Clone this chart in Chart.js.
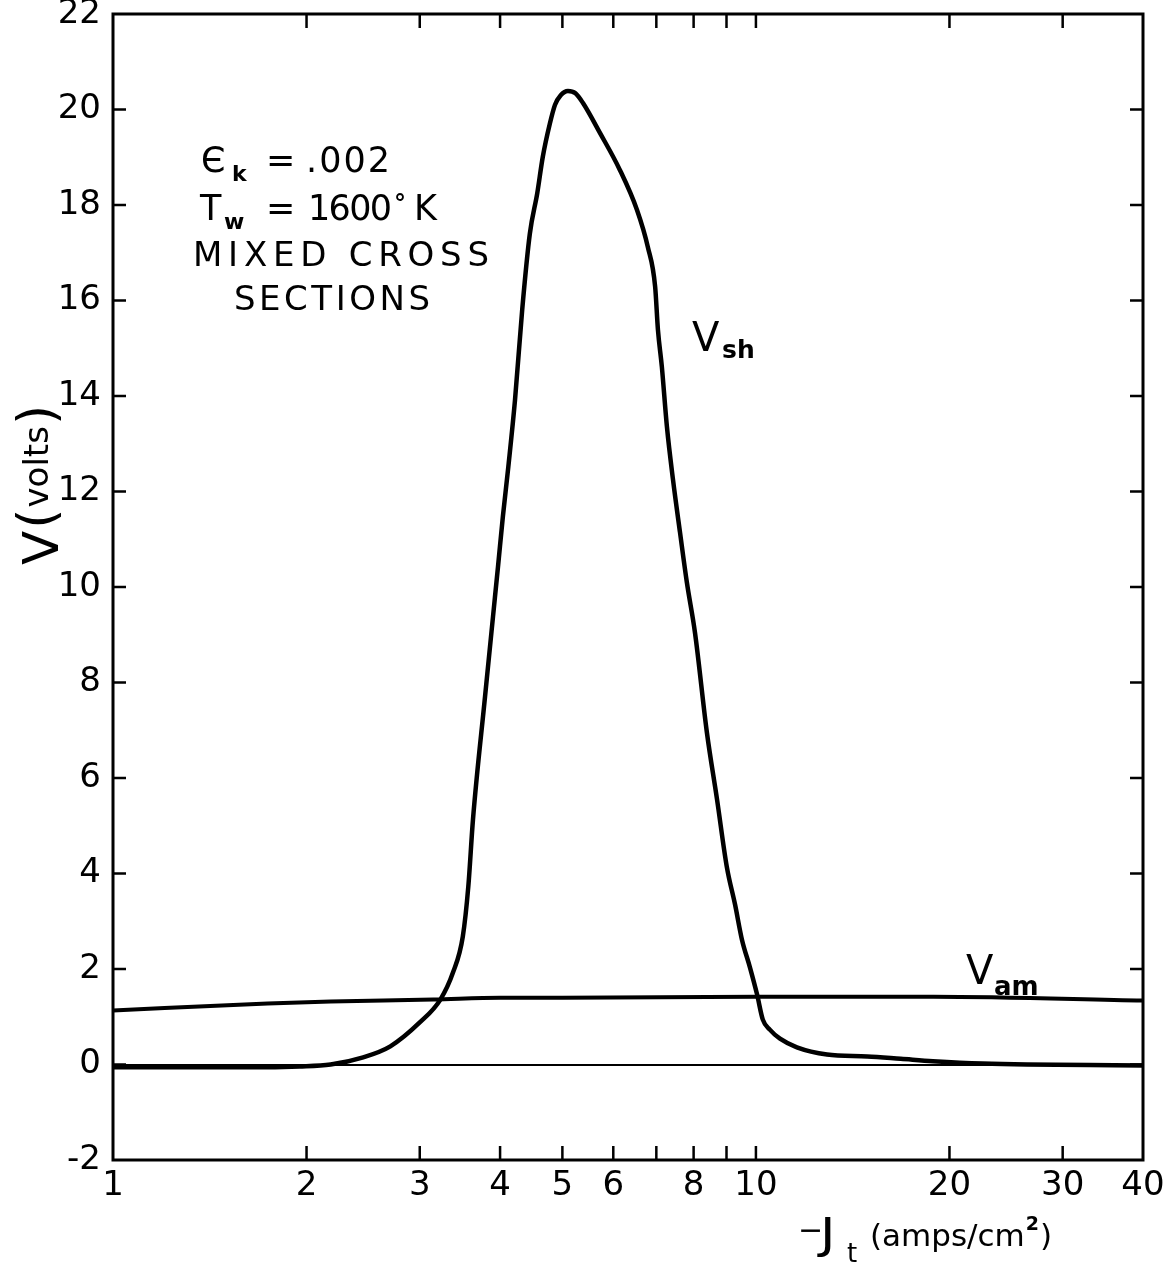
<!DOCTYPE html>
<html>
<head>
<meta charset="utf-8">
<script src="https://cdn.jsdelivr.net/npm/chart.js@4.4.0/dist/chart.umd.min.js"></script>
<style>
  html, body { margin: 0; padding: 0; background: #fff; }
</style>
</head>
<body>
<canvas id="chart" width="1171" height="1268"></canvas>
<script>
// -J_t (amps/cm^2) and sheath voltage V_sh (volts)
const jSh = [1.0, 1.63, 1.95, 2.18, 2.45, 2.7, 3.0, 3.23, 3.38, 3.5, 3.57, 3.63, 3.79, 3.9, 3.97, 4.04, 4.12, 4.22, 4.33, 4.45, 4.57, 4.66, 4.78, 4.87, 4.97, 5.1, 5.24, 5.38, 5.72, 6.14, 6.53, 6.79, 6.97, 7.04, 7.14, 7.27, 7.43, 7.62, 7.81, 8.04, 8.39, 8.7, 9.01, 9.28, 9.51, 9.79, 10.04, 10.25, 10.51, 10.9, 11.58, 12.9, 14.9, 16.8, 18.85, 22.5, 40];
const vSh = [-0.06, -0.06, -0.04, 0.0, 0.15, 0.38, 0.88, 1.36, 1.93, 2.68, 3.73, 5.13, 7.7, 9.38, 10.42, 11.47, 12.52, 13.92, 15.81, 17.4, 18.25, 19.0, 19.7, 20.1, 20.3, 20.39, 20.34, 20.14, 19.51, 18.74, 17.9, 17.12, 16.29, 15.39, 14.61, 13.36, 12.25, 11.14, 10.09, 9.04, 6.95, 5.55, 4.14, 3.35, 2.62, 2.03, 1.47, 0.94, 0.73, 0.54, 0.36, 0.21, 0.17, 0.12, 0.07, 0.02, -0.02];

// arc-mode voltage V_am
const jAm = [1.0, 1.74, 2.18, 3.15, 4.0, 5.0, 10.0, 13.0, 18.9, 40];
const vAm = [1.13, 1.28, 1.32, 1.36, 1.40, 1.40, 1.42, 1.42, 1.42, 1.34];

const xLabels = [1, 2, 3, 4, 5, 6, 8, 10, 20, 30, 40];
const xMarks = [2, 3, 4, 5, 6, 7, 8, 9, 10, 20, 30];
const yTicks = [-2, 0, 2, 4, 6, 8, 10, 12, 14, 16, 18, 20, 22];

const FONT = "'DejaVu Sans', sans-serif";

function spaced(ctx, text, x, y, width) {
  ctx.letterSpacing = '0px';
  const w0 = ctx.measureText(text).width;
  ctx.letterSpacing = ((width - w0) / (text.length - 1)) + 'px';
  ctx.fillText(text, x, y);
  ctx.letterSpacing = '0px';
}

// frame on four sides with inward ticks
const framePlugin = {
  id: 'frame',
  afterDraw(chart) {
    const ctx = chart.ctx, a = chart.chartArea;
    const xs = chart.scales.x, ys = chart.scales.y;
    ctx.save();
    ctx.strokeStyle = '#000';
    ctx.lineWidth = 3;
    ctx.strokeRect(a.left, a.top, a.right - a.left, a.bottom - a.top);
    ctx.lineWidth = 2.5;
    ctx.beginPath();
    xMarks.forEach(v => {
      const px = xs.getPixelForValue(v);
      ctx.moveTo(px, a.bottom); ctx.lineTo(px, a.bottom - 14);
      ctx.moveTo(px, a.top); ctx.lineTo(px, a.top + 14);
    });
    yTicks.slice(1, -1).forEach(v => {
      const py = ys.getPixelForValue(v);
      ctx.moveTo(a.left, py); ctx.lineTo(a.left + 13, py);
      ctx.moveTo(a.right, py); ctx.lineTo(a.right - 13, py);
    });
    ctx.stroke();
    ctx.restore();
  }
};

// annotations and axis titles
const textPlugin = {
  id: 'texts',
  afterDraw(chart) {
    const ctx = chart.ctx;
    ctx.save();
    ctx.fillStyle = '#000';
    ctx.textBaseline = 'alphabetic';
    ctx.textAlign = 'left';

    ctx.font = '35px ' + FONT;
    ctx.fillText('\u0404', 201, 172);
    ctx.fillText('=', 266, 172);
    spaced(ctx, '.002', 306, 172, 84);
    ctx.fillText('T', 200, 220);
    ctx.fillText('=', 266, 220);
    spaced(ctx, '1600', 308, 220, 84);
    ctx.fillText('K', 414, 220);
    ctx.font = 'bold 24px ' + FONT;
    ctx.fillText('\u00b0', 394, 212);
    ctx.font = 'bold 22px ' + FONT;
    ctx.fillText('k', 232, 181);
    ctx.fillText('w', 224, 229);

    ctx.font = '34px ' + FONT;
    spaced(ctx, 'MIXED CROSS', 193, 266, 296);
    spaced(ctx, 'SECTIONS', 234, 310, 196);

    ctx.font = '40px ' + FONT;
    ctx.fillText('V', 692, 351);
    ctx.fillText('V', 966, 984);
    ctx.font = 'bold 25px ' + FONT;
    ctx.fillText('sh', 722, 358);
    ctx.font = 'bold 26px ' + FONT;
    ctx.fillText('am', 994, 995);

    // x title
    ctx.font = '30px ' + FONT;
    ctx.fillText('\u2212', 798, 1240);
    ctx.save();
    ctx.translate(820, 1248);
    ctx.scale(1.25, 1);
    ctx.font = '42px ' + FONT;
    ctx.fillText('J', 0, 0);
    ctx.restore();
    ctx.font = '26px ' + FONT;
    ctx.fillText('t', 847, 1262);
    let x = 870;
    ctx.font = '31px ' + FONT;
    ctx.fillText('(amps/cm', x, 1246);
    x += ctx.measureText('(amps/cm').width + 1;
    ctx.font = 'bold 19px ' + FONT;
    ctx.fillText('2', x, 1230);
    x += ctx.measureText('2').width + 1;
    ctx.font = '31px ' + FONT;
    ctx.fillText(')', x, 1246);

    // y title
    ctx.translate(58, 565);
    ctx.rotate(-Math.PI / 2);
    ctx.font = '50px ' + FONT;
    ctx.fillText('V', 0, 0);
    let t = ctx.measureText('V').width + 2;
    ctx.font = '52px ' + FONT;
    ctx.fillText('(', t, -4);
    t += ctx.measureText('(').width + 1;
    ctx.font = '34px ' + FONT;
    ctx.fillText('volts', t, -10);
    t += ctx.measureText('volts').width + 1;
    ctx.font = '52px ' + FONT;
    ctx.fillText(')', t, -4);
    ctx.restore();
  }
};

new Chart(document.getElementById('chart'), {
  type: 'line',
  data: {
    datasets: [
      {
        label: 'Vsh',
        data: jSh.map((x, i) => ({ x: x, y: vSh[i] })),
        borderColor: '#000',
        borderWidth: 4.5,
        pointRadius: 0,
        cubicInterpolationMode: 'monotone',
        fill: false
      },
      {
        label: 'Vam',
        data: jAm.map((x, i) => ({ x: x, y: vAm[i] })),
        borderColor: '#000',
        borderWidth: 4,
        pointRadius: 0,
        cubicInterpolationMode: 'monotone',
        fill: false
      }
    ]
  },
  options: {
    responsive: false,
    animation: false,
    devicePixelRatio: 1,
    layout: { padding: { top: 14, right: 28, left: 0, bottom: 0 } },
    plugins: { legend: { display: false }, tooltip: { enabled: false } },
    scales: {
      x: {
        type: 'logarithmic',
        min: 1,
        max: 40,
        afterBuildTicks: s => { s.ticks = xLabels.map(v => ({ value: v })); },
        afterFit: s => { s.height = 108; },
        ticks: {
          callback: v => String(v),
          color: '#000',
          font: { family: FONT, size: 34 },
          padding: 6,
          maxRotation: 0,
          autoSkip: false
        },
        grid: { display: false, drawTicks: false },
        border: { display: false }
      },
      y: {
        min: -2,
        max: 22,
        afterBuildTicks: s => { s.ticks = yTicks.map(v => ({ value: v })); },
        afterFit: s => { s.width = 113; s.paddingTop = 0; s.paddingBottom = 0; },
        ticks: {
          color: '#000',
          font: { family: FONT, size: 34 },
          padding: 12
        },
        grid: {
          drawTicks: false,
          color: c => (c.tick && c.tick.value === 0) ? '#000' : 'rgba(0,0,0,0)',
          lineWidth: c => (c.tick && c.tick.value === 0) ? 2 : 0
        },
        border: { display: false }
      }
    }
  },
  plugins: [framePlugin, textPlugin]
});
</script>
</body>
</html>
